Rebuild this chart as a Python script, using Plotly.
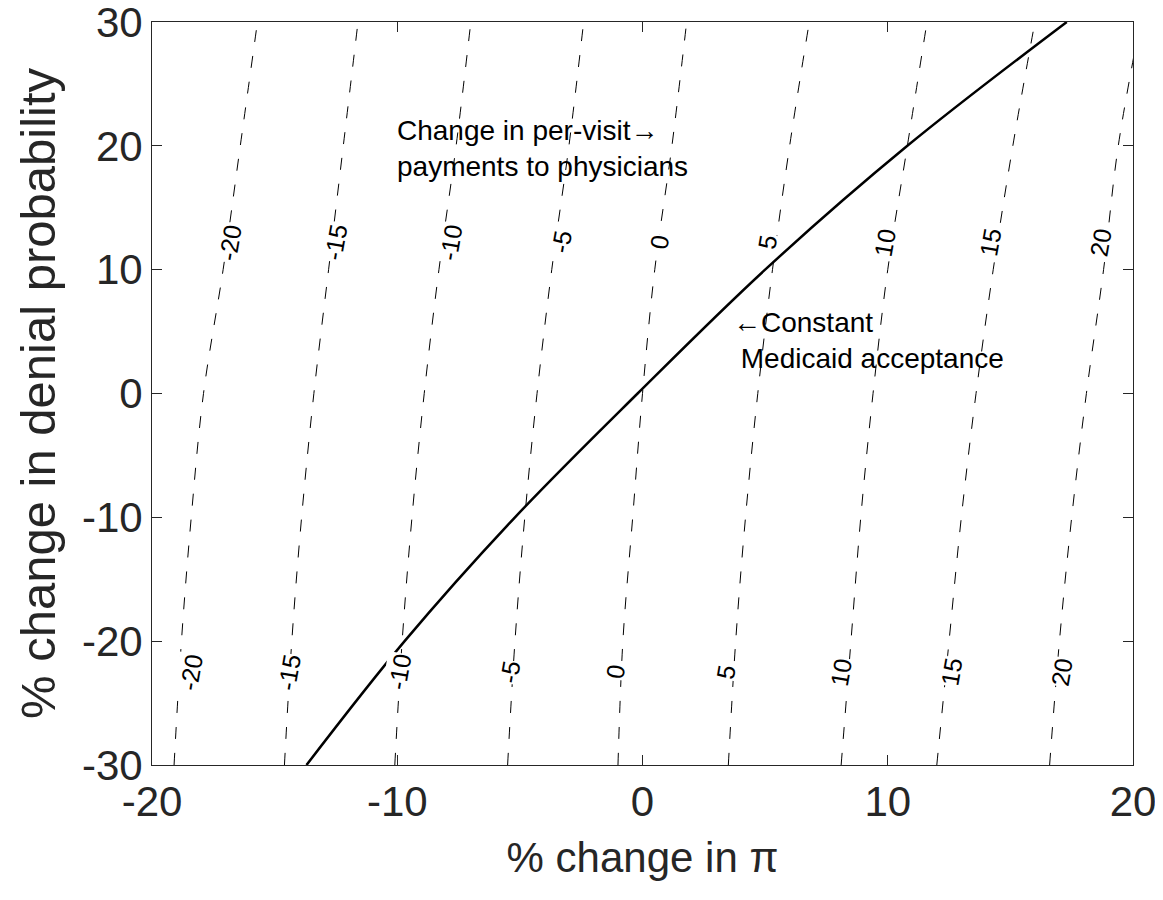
import plotly.graph_objects as go

y_levels = [-30, -20, -10, 0, 10, 20, 30]
contour_levels = [-20, -15, -10, -5, 0, 5, 10, 15, 20]
contour_x = {
    -20: [-19.1, -18.8, -18.4, -17.9, -17.1, -16.4, -15.7],
    -15: [-14.6, -14.3, -13.9, -13.4, -12.8, -12.2, -11.6],
    -10: [-10.1, -9.8, -9.4, -8.9, -8.3, -7.6, -7.0],
    -5: [-5.5, -5.2, -4.8, -4.3, -3.7, -3.0, -2.4],
    0: [-1.0, -0.8, -0.4, 0.0, 0.5, 1.2, 1.8],
    5: [3.5, 3.8, 4.2, 4.7, 5.3, 6.0, 6.8],
    10: [8.1, 8.5, 8.9, 9.4, 10.0, 10.8, 11.6],
    15: [12.0, 12.5, 13.0, 13.6, 14.3, 15.1, 16.0],
    20: [16.6, 17.0, 17.5, 18.1, 18.8, 19.4, 20.3],
}
label_top_x = [-16.8, -12.5, -7.8, -3.3, 0.7, 5.1, 9.9, 14.2, 18.7]
label_top_y = 12.2
label_bot_x = [-18.4, -14.4, -9.9, -5.4, -1.1, 3.4, 8.1, 12.6, 17.1]
label_bot_y = -22.5

solid_y = [-30, -20, -10, 0, 10, 20, 30]
solid_x = [-13.7, -9.7, -5.2, -0.2, 5.0, 10.8, 17.3]

x_ticks = [-20, -10, 0, 10, 20]
y_ticks = [-30, -20, -10, 0, 10, 20, 30]

font = "Liberation Sans, Arial, sans-serif"
ink = "#262626"
fig = go.Figure()

for lev in contour_levels:
    fig.add_trace(go.Scatter(x=contour_x[lev], y=y_levels, mode="lines",
                             line=dict(color="black", width=1, dash="12px,14px", shape="spline"),
                             showlegend=False, hoverinfo="skip"))

fig.add_trace(go.Scatter(x=solid_x, y=solid_y, mode="lines",
                         line=dict(color="black", width=2.5, shape="spline"),
                         showlegend=False, hoverinfo="skip"))

for lev, xt, xb in zip(contour_levels, label_top_x, label_bot_x):
    for xx, yy in ((xt, label_top_y), (xb, label_bot_y)):
        fig.add_annotation(x=xx, y=yy, text=str(lev), showarrow=False, textangle=-80,
                           bgcolor="white", borderpad=0,
                           font=dict(family=font, size=25, color="black"))

fig.add_annotation(x=-10.1, y=19.8, xanchor="left", align="left", showarrow=False,
                   text="Change in per-visit\u2192<br>payments to physicians",
                   font=dict(family=font, size=28, color="black"))
fig.add_annotation(x=3.6, y=4.3, xanchor="left", align="left", showarrow=False,
                   text="\u2190Constant<br> Medicaid acceptance",
                   font=dict(family=font, size=28, color="black"))

axis = dict(showgrid=False, zeroline=False, showline=True, linecolor=ink, linewidth=1,
            mirror="ticks", ticks="inside", ticklen=10, tickcolor=ink, automargin=False,
            ticklabeloverflow="allow",
            tickfont=dict(family=font, size=42, color=ink))
fig.update_layout(
    width=1163, height=900, plot_bgcolor="white", paper_bgcolor="white",
    margin=dict(l=144, r=38, t=14, b=143),
    xaxis=dict(axis, range=[-20, 20], tickvals=x_ticks, ticktext=[str(v) for v in x_ticks],
               title=dict(text="% change in \u03c0", font=dict(family=font, size=42, color=ink), standoff=18)),
    yaxis=dict(axis, range=[-30, 30], tickvals=y_ticks, ticktext=[str(v) for v in y_ticks],
               title=dict(text="% change in denial probability", font=dict(family=font, size=49, color=ink), standoff=10)),
)
fig.write_html("out.html")
